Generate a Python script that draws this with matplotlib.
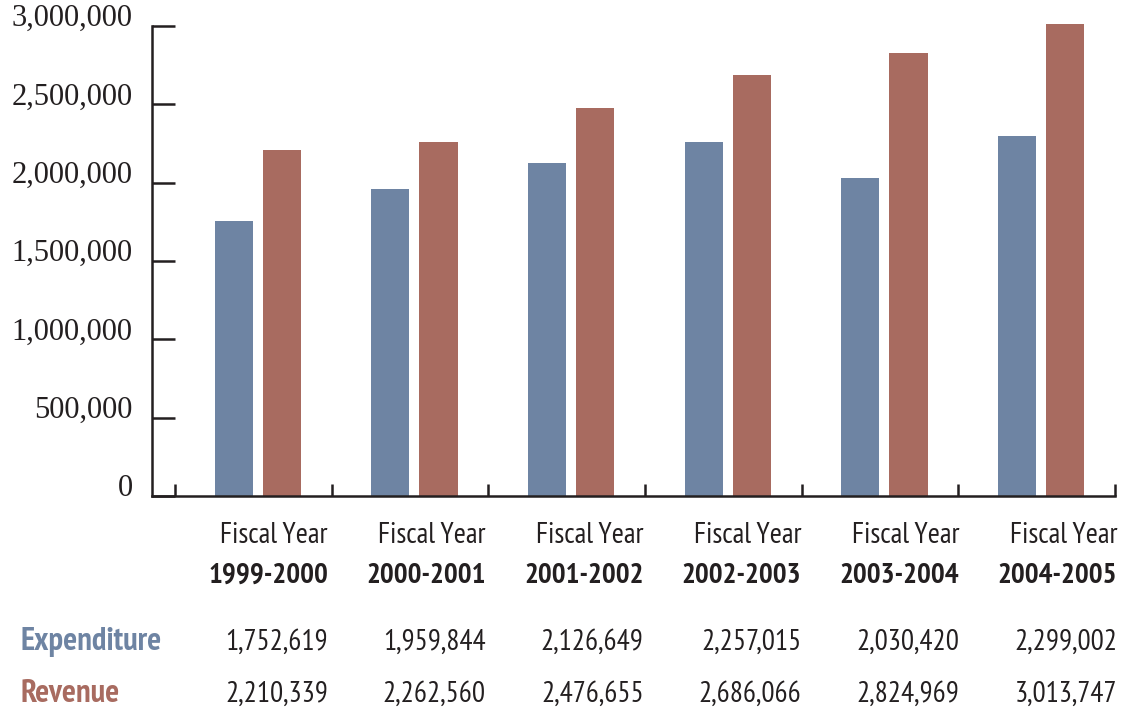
import matplotlib
matplotlib.use("Agg")
import matplotlib.pyplot as plt
from matplotlib.ticker import FuncFormatter, MultipleLocator

years = ["1999-2000", "2000-2001", "2001-2002", "2002-2003", "2003-2004", "2004-2005"]
expenditure = [1752619, 1959844, 2126649, 2257015, 2030420, 2299002]
revenue = [2210339, 2262560, 2476655, 2686066, 2824969, 3013747]

BLUE = "#6e84a3"
RED = "#a86b60"
INK = "#231f20"
NARROW = ["PT Sans Narrow", "DejaVu Sans"]
FS = 21

W, H = 1125, 712
fig = plt.figure(figsize=(W / 100, H / 100), dpi=100)
ax = fig.add_axes([152 / W, 1 - 496 / H, (1115 - 152) / W, (496 - 26) / H])

x = list(range(len(years)))
bar_w = 0.243
ax.bar([i - 0.125 for i in x], expenditure, width=bar_w, color=BLUE, clip_on=False, zorder=2)
ax.bar([i + 0.182 for i in x], revenue, width=bar_w, color=RED, clip_on=False, zorder=2)

ax.set_xlim(-0.5 - 23 / 156.5, len(years) - 0.5)
ax.set_ylim(0, 3000000)

for side in ("top", "right"):
    ax.spines[side].set_visible(False)
for side in ("left", "bottom"):
    ax.spines[side].set_color(INK)
    ax.spines[side].set_linewidth(1.8)

# y axis: serif labels, ticks pointing into the plot
ax.yaxis.set_major_locator(MultipleLocator(500000))
ax.yaxis.set_major_formatter(FuncFormatter(lambda v, p: f"{int(v):,}"))
ax.tick_params(axis="y", direction="in", length=16.5, width=1.8, color=INK,
               pad=14, labelsize=22, labelcolor=INK)
for lab in ax.get_yticklabels():
    lab.set_family("Liberation Serif")
    lab.set_va("baseline")

# x axis: short ticks at category boundaries, no tick labels
ax.set_xticks([i - 0.5 for i in range(len(years) + 1)])
ax.set_xticklabels([])
ax.tick_params(axis="x", direction="in", length=8.6, width=1.8, color=INK)

# category labels and value table under the axis, right-aligned per column
for i, yr in enumerate(years):
    xr = (328 + 157.8 * i) / W
    fig.text(xr, 1 - 543 / H, "Fiscal Year", ha="right", va="baseline",
             fontsize=FS, family=NARROW, color=INK)
    fig.text(xr, 1 - 583 / H, yr, ha="right", va="baseline",
             fontsize=FS, fontweight="bold", family=NARROW, color=INK)
    fig.text(xr, 1 - 650 / H, f"{expenditure[i]:,}", ha="right", va="baseline",
             fontsize=FS, family=NARROW, color=INK)
    fig.text(xr, 1 - 702 / H, f"{revenue[i]:,}", ha="right", va="baseline",
             fontsize=FS, family=NARROW, color=INK)

fig.text(20 / W, 1 - 650 / H, "Expenditure", ha="left", va="baseline",
         fontsize=23.5, fontweight="bold", family=NARROW, color=BLUE)
fig.text(20 / W, 1 - 702 / H, "Revenue", ha="left", va="baseline",
         fontsize=23.5, fontweight="bold", family=NARROW, color=RED)

fig.savefig("out.png", dpi=100)
